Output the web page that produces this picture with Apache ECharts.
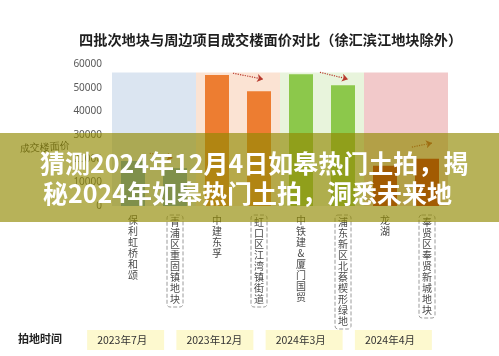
<!DOCTYPE html>
<html><head><meta charset="utf-8">
<script src="https://cdn.jsdelivr.net/npm/echarts@6/dist/echarts.min.js"></script>
<style>html,body{margin:0;padding:0;background:#fff}#c{width:499px;height:356px}</style>
</head><body><div id="c"></div>
<script>
// ---- data ----
const titleText = '四批次地块与周边项目成交楼面价对比（徐汇滨江地块除外）';
const categories = ['保利虹桥和颂','青浦区重固镇地块','中建东孚','虹口区江湾镇街道','中铁建&厦门国贸','浦东新区北蔡楔形绿地','龙湖','奉贤区奉贤新城地块'];
const kinds = ['项目','地块','项目','地块','项目','地块','项目','地块'];
const prices = [19000, 16000, 55300, 48500, 55700, 51000, 17000, 20000];
const dates = ['2023年7月','2023年12月','2024年3月','2024年4月'];
const yTicks = [0, 10000, 20000, 30000, 40000, 50000, 60000];
const bandTop = 56400;
const arrows = [
  [[0.9, 22300],[1.45, 20300]],
  [[2.88, 56100],[3.6, 53600]],
  [[4.95, 56500],[5.62, 53600]],
  [[7.14, 24900],[7.62, 26600]]
];
const yName = '成交楼面价';
const rowName = '拍地时间';
const bannerLines = ['猜测2024年12月4日如皋热门土拍，揭','秘2024年如皋热门土拍，洞悉未来地'];

// ---- styles ----
const barColors = ['#5b9bd5','#ed7d31','#8cc84b','#c00000'];
const bandColors = ['#dbe5f1','#fbe3d3','#e8f4dc','#f2c9ca'];

const chart = echarts.init(document.getElementById('c'), null, {renderer:'canvas'});
const font = 'Noto Sans CJK SC';
chart.setOption({
  animation:false,
  textStyle:{fontFamily:font},
  title:{text:titleText,left:74,top:28,textStyle:{fontSize:14.2,fontWeight:'bold',color:'#1e1e1e',fontFamily:font}},
  grid:[
    {left:112,right:51,top:64,bottom:150},
    {left:81,right:61,top:322,height:2}
  ],
  xAxis:[
    {type:'category',gridIndex:0,data:categories.map((c,i)=>{
        const item={value:c};
        if(kinds[i]==='地块') item.textStyle={borderColor:'#9a9a9a',borderWidth:1,borderType:'dashed',borderRadius:3,padding:[2,3,2,3]};
        return item;}),
     axisLine:{show:false},axisTick:{show:false},
     axisLabel:{interval:0,margin:9,fontSize:10,lineHeight:11,color:'#4a4a4a',verticalAlign:'top',
       formatter:v=>v.split('').join('\n')}},
    {type:'category',gridIndex:0,data:categories,show:false},
    {type:'value',gridIndex:0,min:0,max:categories.length,show:false},
    {type:'category',gridIndex:1,data:dates,axisLine:{show:false},axisTick:{show:false},
     axisLabel:{interval:0,margin:6,formatter:v=>'{d|'+v+'}',
       rich:{d:{backgroundColor:'#fdf9cf',width:67,height:20,lineHeight:20,padding:[0,0,0,10],align:'left',fontSize:10.5,color:'#333'}}}}
  ],
  yAxis:[
    {type:'value',gridIndex:0,min:yTicks[0],max:yTicks[yTicks.length-1],interval:yTicks[1]-yTicks[0],
     axisLine:{show:false},axisTick:{show:false},splitLine:{show:false},
     axisLabel:{margin:10,fontSize:10,color:'#595959',fontFamily:'Noto Sans',formatter:v=>String(v)}},
    {type:'value',gridIndex:1,show:false}
  ],
  series:[
    {type:'bar',xAxisIndex:1,yAxisIndex:0,barWidth:'100%',z:1,silent:true,
     data:categories.map((c,i)=>({value:bandTop,itemStyle:{color:bandColors[Math.floor(i/2)]}}))},
    {type:'bar',xAxisIndex:0,yAxisIndex:0,barWidth:24,z:3,
     data:prices.map((v,i)=>({value:v,itemStyle:{color:barColors[Math.floor(i/2)]}}))},
    {type:'lines',coordinateSystem:'cartesian2d',xAxisIndex:2,yAxisIndex:0,z:4,
     symbol:['none','arrow'],symbolSize:6,
     lineStyle:{color:'#b83a2e',width:1.2,type:'dotted',opacity:1},
     data:arrows.map(a=>({coords:a}))}
  ],
  graphic:[
    {type:'text',left:20,top:141,rotation:0.06,z:5,style:{text:yName,fontSize:10,fill:'#333',font:'10px '+font}},
    {type:'text',left:18,top:333,z:5,style:{text:rowName,fill:'#222',font:'bold 11px '+font}},
    {type:'rect',z:100,shape:{x:0,y:133,width:499,height:89},style:{fill:'rgba(146,138,3,0.66)'}},
    {type:'text',z:101,x:40,y:163,style:{text:bannerLines[0],fill:'#fff',font:'bold 25px '+font,textVerticalAlign:'middle'}},
    {type:'text',z:101,x:43,y:193,style:{text:bannerLines[1],fill:'#fff',font:'bold 25px '+font,textVerticalAlign:'middle'}}
  ]
});
</script></body></html>
